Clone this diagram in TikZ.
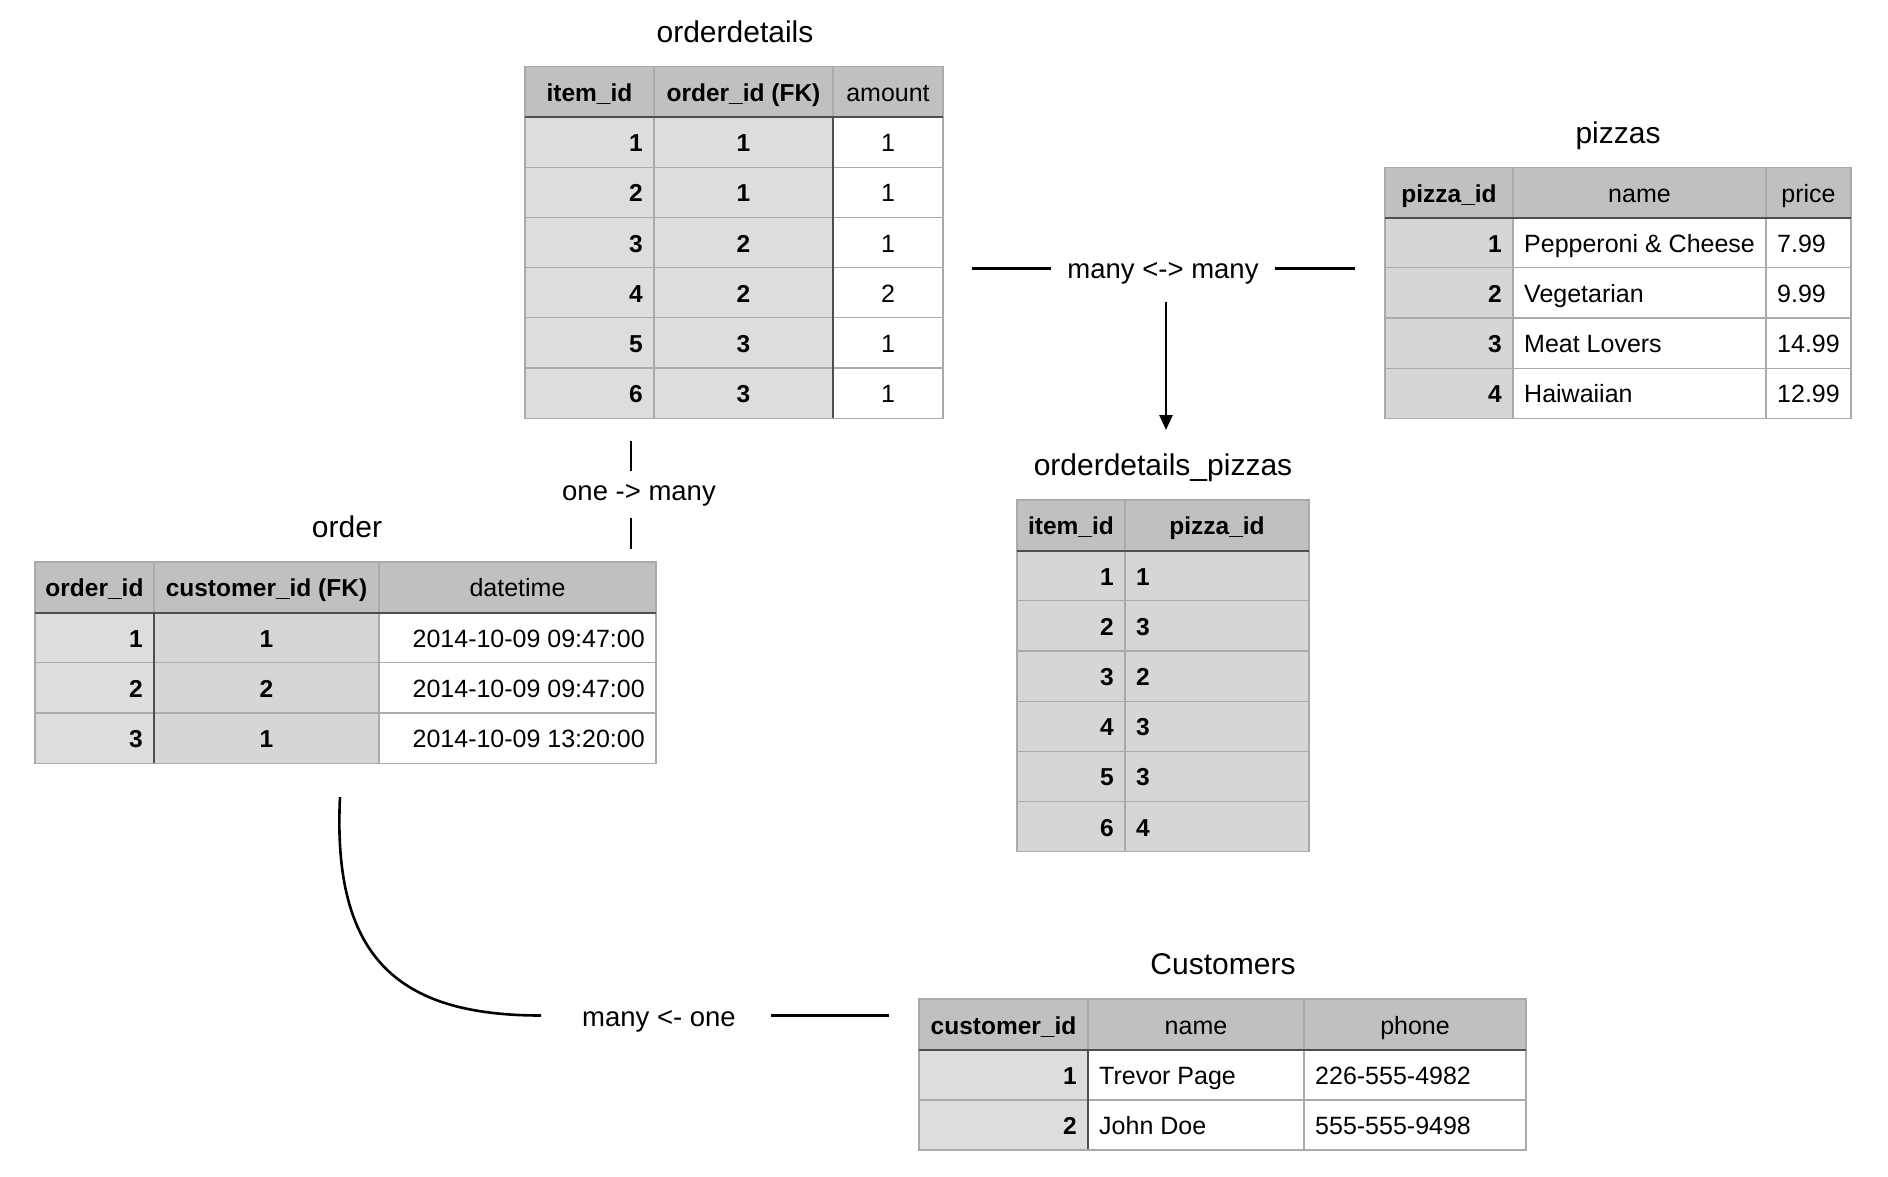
\documentclass[tikz,border=0pt]{standalone}
\usepackage{fontspec}
\setmainfont{Liberation Sans}
\usetikzlibrary{arrows.meta}
\definecolor{hdr}{RGB}{191,193,192}
\definecolor{colA}{RGB}{221,221,221}
\definecolor{colB}{RGB}{214,214,214}
\definecolor{gridc}{RGB}{170,170,170}
\definecolor{darkc}{RGB}{78,78,78}
\tikzset{
  cell/.style={inner sep=0pt, font=\fontsize{25}{30}\selectfont},
  bcell/.style={inner sep=0pt, font=\fontsize{24.5}{29}\selectfont\bfseries},
  ttl/.style={inner sep=0pt, anchor=base, font=\fontsize{30}{36}\selectfont},
  rel/.style={inner ysep=0pt, anchor=base, font=\fontsize{27.5}{33}\selectfont},
  gridline/.style={draw=gridc, line width=1.2pt},
  darkline/.style={draw=darkc, line width=2pt},
  conn/.style={draw=black, line width=2.6pt},
}
% style, name, x1, x2, y1, y2, text
\newcommand\cR[7]{\node[#1,anchor=base east] (#2) at ({#4-11},{(#5+#6)/2+9.5}) {#7};}
\newcommand\cL[7]{\node[#1,anchor=base west] (#2) at ({#3+11},{(#5+#6)/2+9.5}) {#7};}
\newcommand\cC[7]{\node[#1,anchor=base] (#2) at ({(#3+#4)/2},{(#5+#6)/2+9.5}) {#7};}
\begin{document}
\begin{tikzpicture}[x=1pt,y=-1pt]
\useasboundingbox[fill=white] (0,0) rectangle (1888,1176);

% ================= orderdetails =================
\node[ttl] (odT) at (735,42) {orderdetails};
\fill[hdr] (525,66.5) rectangle (943,117);
\fill[colA] (525,117) rectangle (833,418.2);
\fill[white] (833,117) rectangle (943,418.2);
\foreach \k in {1,...,5} \draw[gridline] (525,{117+\k*50.2}) -- (943,{117+\k*50.2});
\draw[gridline] (654,66.5) -- (654,418.2);
\draw[gridline] (833,66.5) -- (833,117);
\draw[darkline] (833,117) -- (833,418.2);
\draw[gridline] (525,66.5) rectangle (943,418.2);
\draw[darkline] (525,117) -- (943,117);
\cC{bcell}{od-h1}{525}{654}{66.5}{117}{item\_id}
\cC{bcell}{od-h2}{654}{833}{66.5}{117}{order\_id (FK)}
\cC{cell}{od-h3}{833}{943}{66.5}{117}{amount}
\foreach \a/\b/\c [count=\k] in {1/1/1,2/1/1,3/2/1,4/2/2,5/3/1,6/3/1}{
  \pgfmathsetmacro\ya{117+(\k-1)*50.2}
  \pgfmathsetmacro\yb{\ya+50.2}
  \cR{bcell}{od-\k-1}{525}{654}{\ya}{\yb}{\a}
  \cC{bcell}{od-\k-2}{654}{833}{\ya}{\yb}{\b}
  \cC{cell}{od-\k-3}{833}{943}{\ya}{\yb}{\c}
}

% ================= pizzas =================
\node[ttl] (pzT) at (1618,143) {pizzas};
\fill[hdr] (1385,167.5) rectangle (1851,217.5);
\fill[colB] (1385,217.5) rectangle (1513,418.3);
\fill[white] (1513,217.5) rectangle (1851,418.3);
\foreach \k in {1,...,3} \draw[gridline] (1385,{217.5+\k*50.2}) -- (1851,{217.5+\k*50.2});
\draw[gridline] (1513,167.5) -- (1513,418.3);
\draw[gridline] (1766,167.5) -- (1766,418.3);
\draw[gridline] (1385,167.5) rectangle (1851,418.3);
\draw[darkline] (1385,217.5) -- (1851,217.5);
\cC{bcell}{pz-h1}{1385}{1513}{167.5}{217.5}{pizza\_id}
\cC{cell}{pz-h2}{1513}{1766}{167.5}{217.5}{name}
\cC{cell}{pz-h3}{1766}{1851}{167.5}{217.5}{price}
\foreach \a/\b/\c [count=\k] in {1/Pepperoni \& Cheese/7.99,2/Vegetarian/9.99,3/Meat Lovers/14.99,4/Haiwaiian/12.99}{
  \pgfmathsetmacro\ya{217.5+(\k-1)*50.2}
  \pgfmathsetmacro\yb{\ya+50.2}
  \cR{bcell}{pz-\k-1}{1385}{1513}{\ya}{\yb}{\a}
  \cL{cell}{pz-\k-2}{1513}{1766}{\ya}{\yb}{\b}
  \cL{cell}{pz-\k-3}{1766}{1851}{\ya}{\yb}{\c}
}

% ================= orderdetails_pizzas =================
\node[ttl] (opT) at (1163,475) {orderdetails\_pizzas};
\fill[hdr] (1017,500) rectangle (1309,550.5);
\fill[colB] (1017,550.5) rectangle (1309,851.7);
\foreach \k in {1,...,5} \draw[gridline] (1017,{550.5+\k*50.2}) -- (1309,{550.5+\k*50.2});
\draw[gridline] (1125,500) -- (1125,851.7);
\draw[gridline] (1017,500) rectangle (1309,851.7);
\draw[darkline] (1017,550.5) -- (1309,550.5);
\cC{bcell}{op-h1}{1017}{1125}{500}{550.5}{item\_id}
\cC{bcell}{op-h2}{1125}{1309}{500}{550.5}{pizza\_id}
\foreach \a/\b [count=\k] in {1/1,2/3,3/2,4/3,5/3,6/4}{
  \pgfmathsetmacro\ya{550.5+(\k-1)*50.2}
  \pgfmathsetmacro\yb{\ya+50.2}
  \cR{bcell}{op-\k-1}{1017}{1125}{\ya}{\yb}{\a}
  \cL{bcell}{op-\k-2}{1125}{1309}{\ya}{\yb}{\b}
}

% ================= order =================
\node[ttl] (orT) at (347,537) {order};
\fill[hdr] (35,562) rectangle (656,612.5);
\fill[colA] (35,612.5) rectangle (154,763.3);
\fill[colB] (154,612.5) rectangle (379,763.3);
\fill[white] (379,612.5) rectangle (656,763.3);
\foreach \k in {1,2} \draw[gridline] (35,{612.5+\k*50.27}) -- (656,{612.5+\k*50.27});
\draw[gridline] (154,562) -- (154,612.5);
\draw[darkline] (154,612.5) -- (154,763.3);
\draw[gridline] (379,562) -- (379,763.3);
\draw[gridline] (35,562) rectangle (656,763.3);
\draw[darkline] (35,612.5) -- (656,612.5);
\cC{bcell}{or-h1}{35}{154}{562}{612.5}{order\_id}
\cC{bcell}{or-h2}{154}{379}{562}{612.5}{customer\_id (FK)}
\cC{cell}{or-h3}{379}{656}{562}{612.5}{datetime}
\foreach \a/\b/\c [count=\k] in {1/1/2014-10-09 09:47:00,2/2/2014-10-09 09:47:00,3/1/2014-10-09 13:20:00}{
  \pgfmathsetmacro\ya{612.5+(\k-1)*50.27}
  \pgfmathsetmacro\yb{\ya+50.27}
  \cR{bcell}{or-\k-1}{35}{154}{\ya}{\yb}{\a}
  \cC{bcell}{or-\k-2}{154}{379}{\ya}{\yb}{\b}
  \cR{cell}{or-\k-3}{379}{656}{\ya}{\yb}{\c}
}

% ================= Customers =================
\node[ttl] (cuT) at (1223,974) {Customers};
\fill[hdr] (919,999) rectangle (1526,1050);
\fill[colA] (919,1050) rectangle (1088,1150);
\fill[white] (1088,1050) rectangle (1526,1150);
\draw[gridline] (919,1100) -- (1526,1100);
\draw[gridline] (1088,999) -- (1088,1050);
\draw[darkline] (1088,1050) -- (1088,1150);
\draw[gridline] (1304,999) -- (1304,1150);
\draw[gridline] (919,999) rectangle (1526,1150);
\draw[darkline] (919,1050) -- (1526,1050);
\cC{bcell}{cu-h1}{919}{1088}{999}{1050}{customer\_id}
\cC{cell}{cu-h2}{1088}{1304}{999}{1050}{name}
\cC{cell}{cu-h3}{1304}{1526}{999}{1050}{phone}
\foreach \a/\b/\c [count=\k] in {1/Trevor Page/226-555-4982,2/John Doe/555-555-9498}{
  \pgfmathsetmacro\ya{1050+(\k-1)*50}
  \pgfmathsetmacro\yb{\ya+50}
  \cR{bcell}{cu-\k-1}{919}{1088}{\ya}{\yb}{\a}
  \cL{cell}{cu-\k-2}{1088}{1304}{\ya}{\yb}{\b}
  \cL{cell}{cu-\k-3}{1304}{1526}{\ya}{\yb}{\c}
}

% ================= relationships =================
% many <-> many
\node[rel, inner xsep=16pt] (mm) at (1163,278) {many <-> many};
\coordinate (mmL) at (972,268.5);
\coordinate (mmR) at (1355,268.5);
\draw[conn] (mmL) -- (mmL -| mm.west);
\draw[conn] (mmR -| mm.east) -- (mmR);
\coordinate (mmS) at (1166,302);
\coordinate (mmE) at (1166,430);
\draw[conn, -{Triangle[length=15pt,width=13pt]}] (mmS) -- (mmE);

% one -> many
\node[rel] (om) at (639,500) {one -> many};
\coordinate (omA) at (631,441);
\coordinate (omB) at (631,471);
\coordinate (omC) at (631,518);
\coordinate (omD) at (631,549);
\draw[conn] (omA) -- (omB);
\draw[conn] (omC) -- (omD);

% many <- one
\node[rel] (mo) at (659,1026) {many <- one};
\coordinate (moA) at (340,797);
\coordinate (moB) at (541,1015.5);
\coordinate (moC) at (771,1015.5);
\coordinate (moD) at (889,1015.5);
\draw[conn] (moA) .. controls (332,960) and (400,1015.5) .. (moB);
\draw[conn] (moC) -- (moD);
\end{tikzpicture}
\end{document}
